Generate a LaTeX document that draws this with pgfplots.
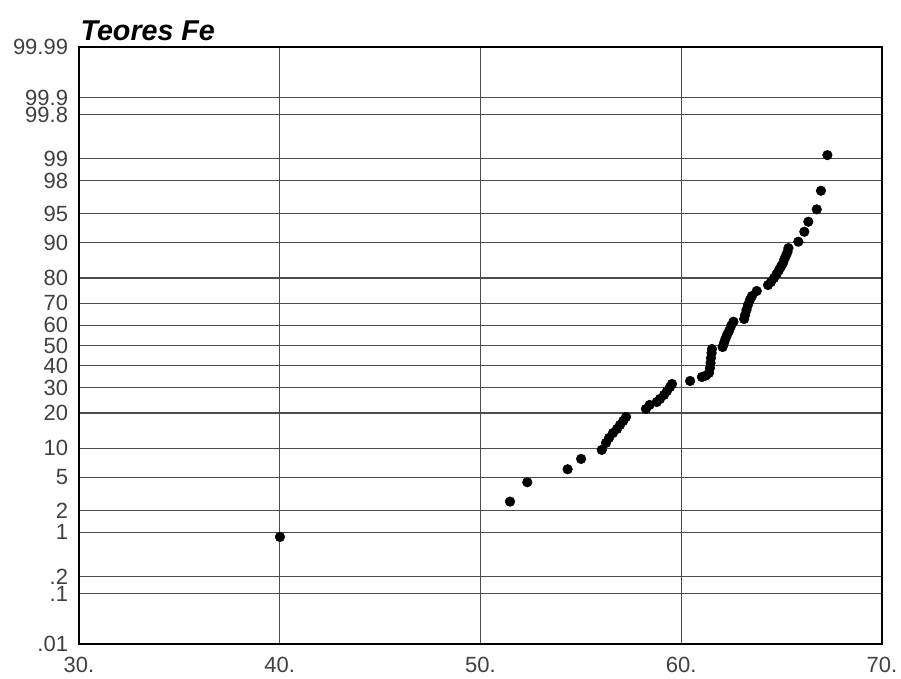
\documentclass[border=0pt]{standalone}
\usepackage{pgfplots}
\pgfplotsset{compat=1.18}
\usepackage{fontspec}
\setmainfont{Liberation Sans}
\begin{document}
\begin{tikzpicture}
\begin{axis}[
  name=ax,
  scale only axis,
  width=602.25pt, height=447.75pt,
  xmin=30, xmax=70,
  ymin=-3.719, ymax=3.719,
  xtick={30,40,50,60,70},
  xticklabels={30.,40.,50.,60.,70.},
  ytick={-3.719,-3.090,-2.878,-2.326,-2.054,-1.645,-1.2816,-0.8416,-0.5244,-0.2533,0,0.2533,0.5244,0.8416,1.2816,1.645,2.054,2.326,2.878,3.090,3.719},
  yticklabels={.01,.1,.2,1,2,5,10,20,30,40,50,60,70,80,90,95,98,99,99.8,99.9,99.99},
  /pgf/number format/assume math mode=true,
  major tick length=0pt,
  grid=major,
  major grid style={line width=1pt, black!70},
  axis line style={line width=1.6pt, black},
  tick label style={font=\fontsize{16.5}{18}\selectfont, text=black!75},
  yticklabel style={inner sep=0pt, anchor=east, xshift=-8pt},
  xticklabel style={inner sep=0pt, anchor=north, yshift=-10pt},
]
\addplot[only marks, mark=*, mark size=3.6pt, black] table {
x y
40.01 -2.385
51.47 -1.945
52.33 -1.704
54.34 -1.542
55.01 -1.413
56.04 -1.301
56.25 -1.214
56.40 -1.152
56.60 -1.090
56.80 -1.040
56.95 -0.990
57.11 -0.940
57.25 -0.890
58.24 -0.791
58.42 -0.741
58.78 -0.704
58.94 -0.666
59.14 -0.616
59.29 -0.567
59.44 -0.517
59.54 -0.479
60.44 -0.442
61.03 -0.392
61.23 -0.374
61.38 -0.342
61.43 -0.280
61.46 -0.218
61.48 -0.156
61.51 -0.093
61.53 -0.044
62.06 -0.019
62.13 0.031
62.20 0.081
62.28 0.131
62.38 0.181
62.48 0.243
62.60 0.296
63.13 0.330
63.18 0.380
63.25 0.442
63.32 0.504
63.42 0.567
63.52 0.616
63.76 0.679
64.32 0.753
64.47 0.791
64.62 0.841
64.75 0.890
64.87 0.940
64.97 0.984
65.07 1.027
65.14 1.077
65.22 1.121
65.29 1.164
65.34 1.214
65.83 1.293
66.13 1.417
66.33 1.542
66.75 1.696
66.96 1.928
67.28 2.372
};
\end{axis}
\node[anchor=base west, inner sep=0pt, font=\fontsize{21.5}{23}\selectfont\bfseries\itshape] at ([xshift=1pt, yshift=5pt]ax.north west) {Teores Fe};
\pgfresetboundingbox
\path[use as bounding box] ([xshift=-59.25pt,yshift=-25.5pt]ax.south west) rectangle ([xshift=14.25pt,yshift=35.25pt]ax.north east);
\end{tikzpicture}
\end{document}
